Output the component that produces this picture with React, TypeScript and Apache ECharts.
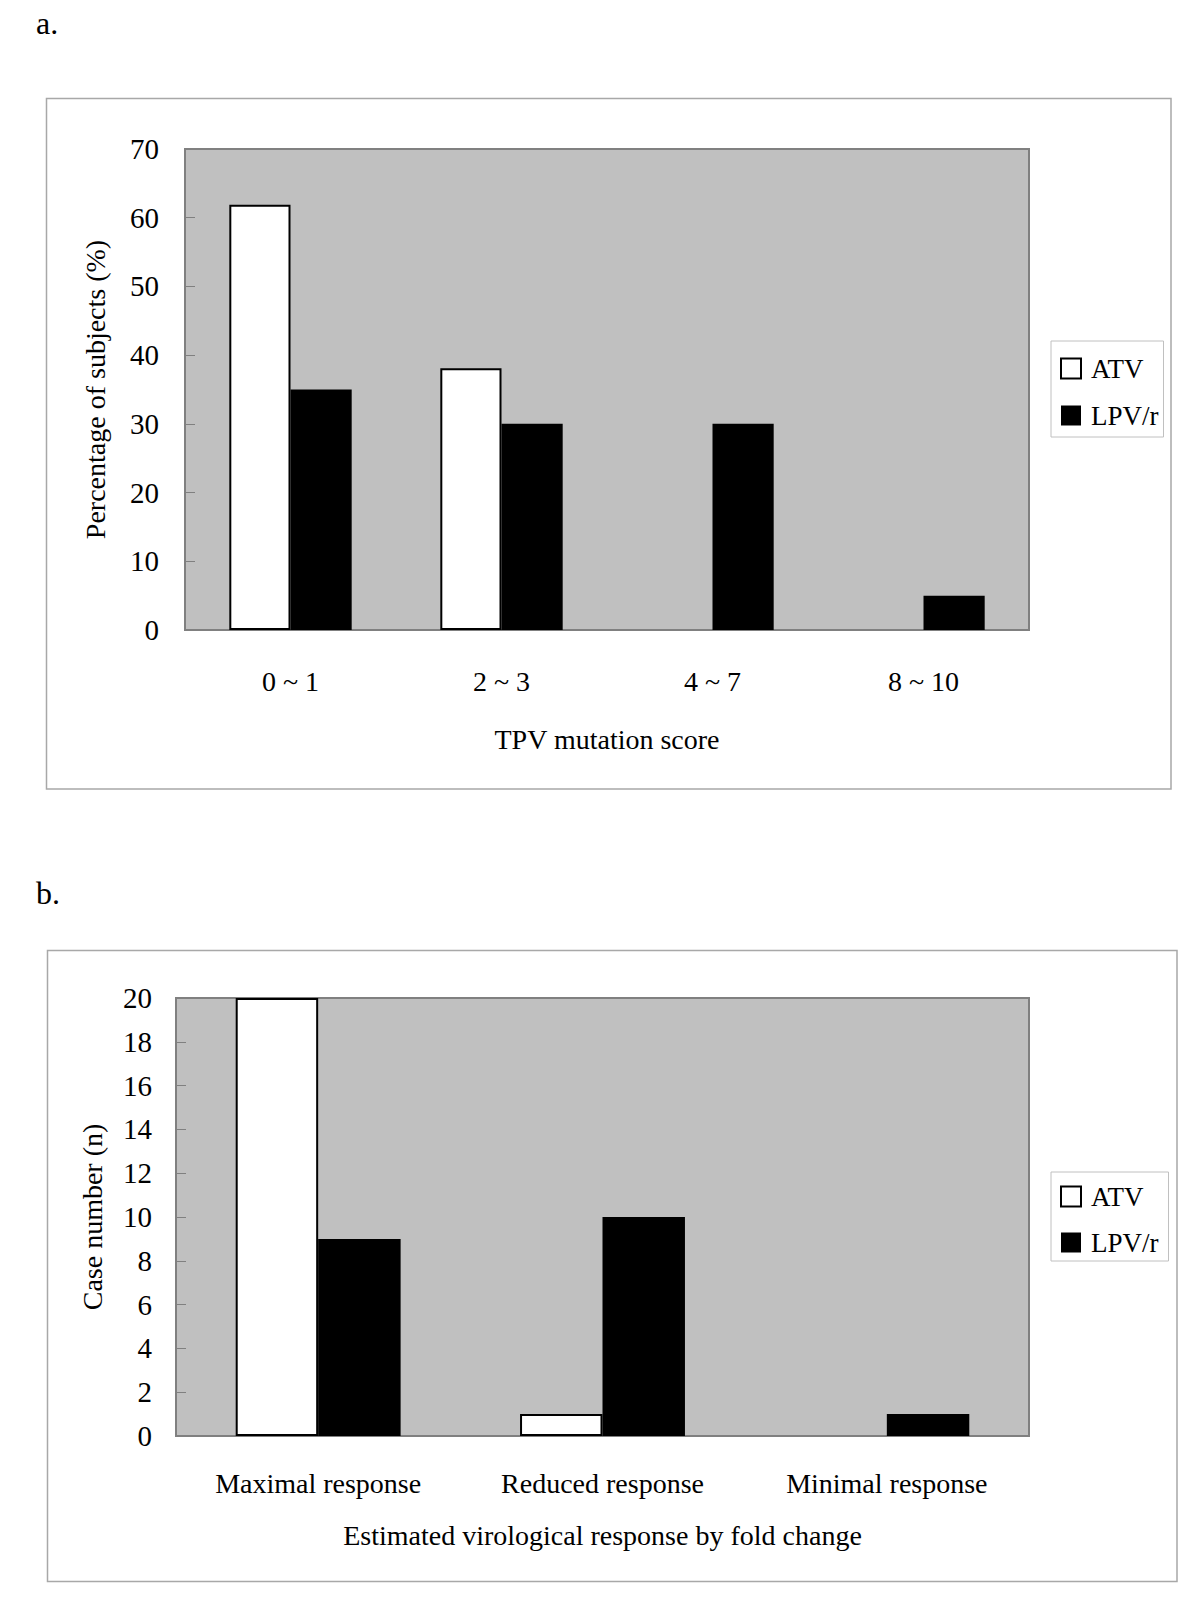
import React, { useEffect, useRef } from "react";
import * as echarts from "echarts";

const categoriesA = ["0 ~ 1", "2 ~ 3", "4 ~ 7", "8 ~ 10"];
const atvA = [61.9, 38.1, 0, 0];
const lpvA = [35, 30, 30, 5];

const categoriesB = ["Maximal response", "Reduced response", "Minimal response"];
const atvB = [20, 1, 0];
const lpvB = [9, 10, 1];

const FONT = "Liberation Serif";

function barData(vals: number[]) {
  return vals.map((v) => (v === 0 ? { value: 0, itemStyle: { borderWidth: 0 } } : v));
}

export default function App() {
  const ref = useRef<HTMLDivElement>(null);
  useEffect(() => {
    document.body.style.margin = "0";
    const chart = echarts.init(ref.current!, null, { renderer: "svg" });
    const axisGray = "#808080";
    const xAxisCommon = {
      type: "category",
      axisLine: { lineStyle: { color: axisGray, width: 2 } },
      axisTick: { inside: true, length: 12, lineStyle: { color: axisGray } },
      axisLabel: { color: "#000", fontSize: 28, fontFamily: FONT },
      nameLocation: "middle",
      nameTextStyle: { color: "#000", fontSize: 28, fontFamily: FONT },
      splitLine: { show: false },
    };
    const yAxisCommon = {
      type: "value",
      axisLine: { show: true, lineStyle: { color: axisGray, width: 2 } },
      axisTick: { show: true, inside: true, length: 10, lineStyle: { color: axisGray } },
      axisLabel: { color: "#000", fontSize: 29, fontFamily: FONT },
      nameLocation: "middle",
      nameRotate: 90,
      nameTextStyle: { color: "#000", fontSize: 28, fontFamily: FONT },
      splitLine: { show: false },
    };
    const atvStyle = { color: "#ffffff", borderColor: "#000000", borderWidth: 2 };
    const lpvStyle = { color: "#000000" };
    const legendCommon = {
      orient: "vertical",
      icon: "rect",
      itemWidth: 20,
      itemHeight: 20,
      borderColor: "#c0c0c0",
      borderWidth: 1,
      backgroundColor: "#ffffff",
      textStyle: { color: "#000", fontSize: 27, fontFamily: FONT, padding: [0, 0, 0, 5] },
      data: [
        { name: "ATV", itemStyle: { color: "#fff", borderColor: "#000", borderWidth: 2 } },
        { name: "LPV/r", itemStyle: { color: "#000", borderWidth: 0 } },
      ],
    };
    chart.setOption({
      animation: false,
      textStyle: { fontFamily: FONT },
      grid: [
        {
          left: 185,
          top: 149,
          right: 171,
          height: 481,
          show: true,
          backgroundColor: "#c0c0c0",
          borderColor: axisGray,
          borderWidth: 2,
        },
        {
          left: 176,
          top: 998,
          right: 171,
          height: 438,
          show: true,
          backgroundColor: "#c0c0c0",
          borderColor: axisGray,
          borderWidth: 2,
        },
      ],
      xAxis: [
        { ...xAxisCommon, gridIndex: 0, data: categoriesA, name: "TPV mutation score", nameGap: 95, axisLabel: { ...xAxisCommon.axisLabel, margin: 37 } },
        { ...xAxisCommon, gridIndex: 1, data: categoriesB, name: "Estimated virological response by fold change", nameGap: 85, axisLabel: { ...xAxisCommon.axisLabel, margin: 33 } },
      ],
      yAxis: [
        { ...yAxisCommon, gridIndex: 0, min: 0, max: 70, interval: 10, name: "Percentage of subjects (%)", nameGap: 76, axisLabel: { ...yAxisCommon.axisLabel, margin: 26 } },
        { ...yAxisCommon, gridIndex: 1, min: 0, max: 20, interval: 2, name: "Case number (n)", nameGap: 70, axisLabel: { ...yAxisCommon.axisLabel, margin: 24 } },
      ],
      legend: [
        { ...legendCommon, left: 1051, top: 341, padding: [14, 5, 8, 9], itemGap: 20 },
        { ...legendCommon, left: 1051, top: 1172, padding: [11, 10, 5, 9], itemGap: 19 },
      ],
      series: [
        { type: "bar", name: "ATV", xAxisIndex: 0, yAxisIndex: 0, data: barData(atvA), itemStyle: atvStyle, barGap: "0%", barCategoryGap: "42%" },
        { type: "bar", name: "LPV/r", xAxisIndex: 0, yAxisIndex: 0, data: barData(lpvA), itemStyle: lpvStyle, barGap: "0%", barCategoryGap: "42%" },
        { type: "bar", name: "ATV", xAxisIndex: 1, yAxisIndex: 1, data: barData(atvB), itemStyle: atvStyle, barGap: "0%", barCategoryGap: "42%" },
        { type: "bar", name: "LPV/r", xAxisIndex: 1, yAxisIndex: 1, data: barData(lpvB), itemStyle: lpvStyle, barGap: "0%", barCategoryGap: "42%" },
      ],
      graphic: [
        { type: "rect", z: -10, shape: { x: 46.5, y: 98.5, width: 1124.5, height: 690.5 }, style: { fill: "#fff", stroke: "#a8a8a8", lineWidth: 1.5 }, silent: true },
        { type: "rect", z: -10, shape: { x: 47.5, y: 950.5, width: 1129.5, height: 631 }, style: { fill: "#fff", stroke: "#a8a8a8", lineWidth: 1.5 }, silent: true },
        { type: "text", x: 36, y: 23, style: { text: "a.", font: `32px "${FONT}"`, fill: "#000", verticalAlign: "middle" } },
        { type: "text", x: 36, y: 893, style: { text: "b.", font: `32px "${FONT}"`, fill: "#000", verticalAlign: "middle" } },
      ],
    });
    return () => chart.dispose();
  }, []);
  return <div ref={ref} style={{ width: 1200, height: 1613 }} />;
}
